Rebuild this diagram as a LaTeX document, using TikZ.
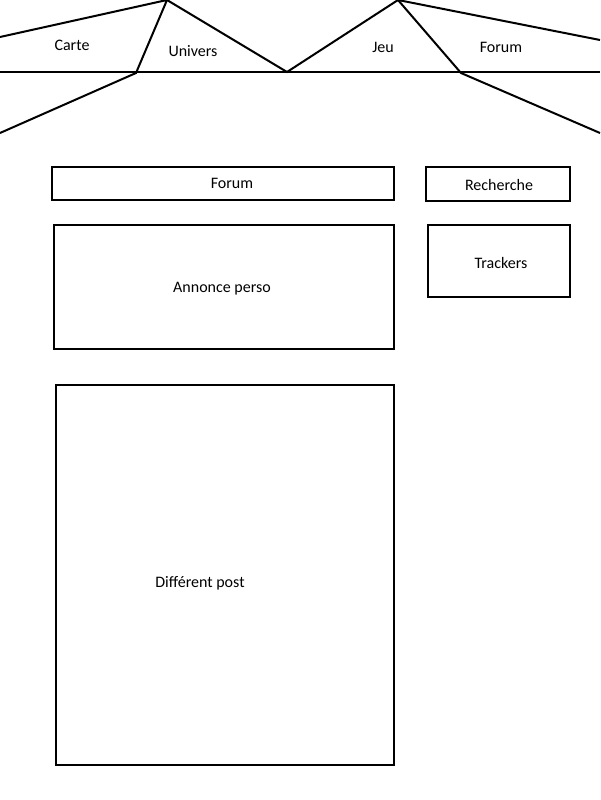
\documentclass[tikz,border=0pt]{standalone}
\usepackage{fontspec}
\setmainfont{Carlito}
\begin{document}
\begin{tikzpicture}[x=1pt,y=-1pt,
  line/.style={line width=2pt,line join=miter},
  frame/.style={draw,line width=2pt,rectangle,inner sep=0pt,outer sep=0pt,anchor=north west},
  lbl/.style={font=\fontsize{16}{18}\selectfont,inner sep=0pt}]
\useasboundingbox (0,0) rectangle (600,800);
% navigation bar
\coordinate (l0) at (0,72);
\coordinate (r0) at (600,72);
\coordinate (c1) at (0,37);
\coordinate (p1) at (167,0);
\coordinate (b1) at (136,73);
\coordinate (c2) at (0,133);
\coordinate (v1) at (287,72);
\coordinate (p2) at (398,0);
\coordinate (b2) at (461,73);
\coordinate (c3) at (600,40);
\coordinate (c4) at (600,133);
\draw[line] (l0) -- (r0);
\draw[line] (c1) -- (p1) -- (b1) -- (c2);
\draw[line] (p1) -- (v1) -- (p2) -- (b2) -- (c4);
\draw[line] (p2) -- (c3);
\node[lbl] (carte) at (72,45) {Carte};
\node[lbl] (univers) at (193,51) {Univers};
\node[lbl] (jeu) at (383,47) {Jeu};
\node[lbl] (forumtab) at (501,47) {Forum};
% page blocks
\node[frame,minimum width=342pt,minimum height=33pt] (forum) at (52,167) {};
\node[frame,minimum width=144pt,minimum height=34pt] (recherche) at (426,167) {};
\node[frame,minimum width=340pt,minimum height=124pt] (annonce) at (54,225) {};
\node[frame,minimum width=142pt,minimum height=72pt] (trackers) at (428,225) {};
\node[frame,minimum width=338pt,minimum height=380pt] (posts) at (56,385) {};
\node[lbl] at (232,183) {Forum};
\node[lbl] at (499,185) {Recherche};
\node[lbl] at (222,289) {Annonce perso};
\node[lbl] at (501,263) {Trackers};
\node[lbl] at (200,583) {Différent post};
\end{tikzpicture}
\end{document}
